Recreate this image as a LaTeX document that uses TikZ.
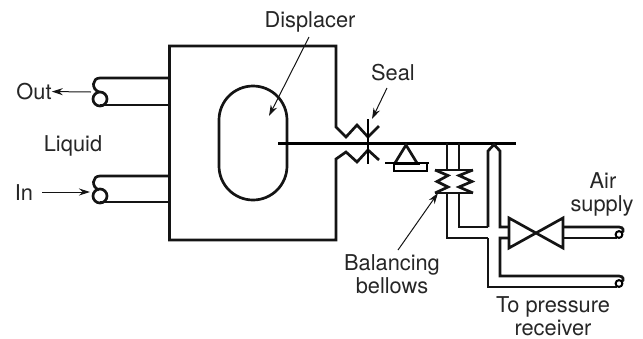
\documentclass[tikz,border=0pt]{standalone}
\usepackage{fontspec}
\setmainfont{TeX Gyre Heros}
\usetikzlibrary{arrows.meta}
\tikzset{
  pipe/.style={line width=2.7pt,line join=miter,black!92},
  wall/.style={line width=2.7pt,line join=miter,black!92},
  thin lead/.style={line width=1pt,-{Stealth[length=11pt,width=7pt]},black!92},
  lbl/.style={font=\fontsize{21.8}{26}\selectfont,inner sep=0pt,anchor=base,text=black!85},
}
\begin{document}
\begin{tikzpicture}[x=1pt,y=-1pt]
\useasboundingbox (0,0) rectangle (643,338);
% labels
\node[lbl] (disp) at (310,27.5) {Displacer};
\node[lbl] (seal) at (393,80) {Seal};
\node[lbl] (out) at (34,99.5) {Out};
\node[lbl] (liq) at (73,151) {Liquid};
\node[lbl] (in) at (24,200.5) {In};
\node[lbl] (bal1) at (392,270) {Balancing};
\node[lbl] (bal2) at (392,293) {bellows};
\node[lbl] (air1) at (603,188.5) {Air};
\node[lbl] (air2) at (602,211.5) {supply};
\node[lbl] (to1) at (553,312.5) {To pressure};
\node[lbl] (to2) at (553,335) {receiver};
% vessel
\draw[wall] (379,126) -- (368,137) -- (357,125) -- (346,137) -- (336,127) -- (336,46) -- (169.5,46) -- (169.5,240) -- (336,240) -- (336,159) -- (346,152) -- (357,162) -- (368,150) -- (379,160);
% displacer
\draw[wall] (219,120) arc[start angle=180,end angle=360,radius=34] -- (287,166) arc[start angle=0,end angle=180,radius=34] -- cycle;
% shaft and seal
\draw[line width=3pt] (278,143) -- (516,143);
\draw[line width=2.7pt] (368,119) -- (368,164);
% pivot
\draw[wall] (395,163) -- (406,145) -- (417,163);
\draw[line width=1.8pt] (385,163) -- (429,163);
\draw[line width=3pt] (395,163) -- (420,163);
\draw[line width=2pt] (394,163) rectangle (427,171);
% bellows pipes
\draw[pipe] (447,143) -- (447,170);
\draw[pipe] (459,143) -- (459,170);
\draw[pipe] (435,170) -- (473,170);
\draw[pipe] (435,193) -- (473,193);
\draw[pipe] (435,170) -- (448,175.5) -- (437,181.5) -- (448,187) -- (435,193);
\draw[pipe] (473,170) -- (459,175.5) -- (472,181.5) -- (459,187) -- (473,193);
\draw[pipe] (447,193) -- (447,238) -- (488,238);
\draw[pipe] (459,193) -- (459,227) -- (488,227);
% relay pipe
\draw[pipe] (488,227) -- (488,151) -- (494,144.5) -- (500,151) -- (500,227) -- (509,227);
\draw[pipe] (509,238) -- (500,238) -- (500,276) -- (619,276) .. controls (624,276) and (624,281) .. (622,281);
\draw[pipe] (488,238) -- (488,287) -- (617,287);
% valve
\draw[wall] (509,218) -- (563,248) -- (563,218) -- (509,248) -- cycle;
\draw[pipe] (563,227) -- (619,227) .. controls (624,227) and (624,232) .. (622,232);
\draw[pipe] (563,238) -- (617,238);
\draw[line width=2pt] (619,234.5) circle[radius=3.4];
\draw[line width=2pt] (619,283.5) circle[radius=3.4];
% liquid connections
\draw[pipe] (169.5,78) -- (100,78) .. controls (92,78) and (91,89) .. (99,92);
\draw[pipe] (169.5,105) -- (100,105);
\draw[pipe] (100,99) circle[radius=7];
\draw[pipe] (169.5,176) -- (100,176) .. controls (92,176) and (91,187) .. (99,190);
\draw[pipe] (169.5,202) -- (100,202);
\draw[pipe] (100,196) circle[radius=7];
% leaders
\coordinate (inlet) at (90,192);
\coordinate (outlet) at (91,92);
\coordinate (dispS) at (309,37);
\coordinate (dispT) at (269,116);
\coordinate (sealS) at (387,88);
\coordinate (sealT) at (372,119);
\coordinate (belS) at (398,250);
\coordinate (belT) at (438,193);
\coordinate (inS) at (42,192);
\draw[thin lead] (outlet) -- (out.east);
\draw[thin lead] (inS) -- (inlet);
\draw[thin lead] (dispS) -- (dispT);
\draw[thin lead] (sealS) -- (sealT);
\draw[thin lead] (belS) -- (belT);
\end{tikzpicture}
\end{document}
